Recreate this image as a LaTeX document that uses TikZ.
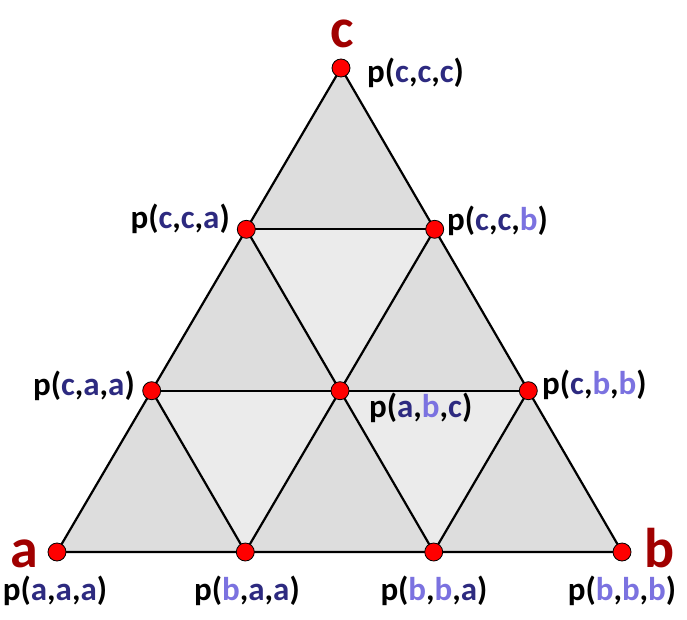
\documentclass[tikz,border=0pt]{standalone}
\usepackage{fontspec}
\setmainfont{Carlito}
\definecolor{vred}{HTML}{A00000}
\definecolor{ca}{HTML}{2D2A80}
\definecolor{cb}{HTML}{7B72E0}
\definecolor{upg}{HTML}{DDDDDD}
\definecolor{dng}{HTML}{EBEBEB}
\newcommand{\A}{\textcolor{ca}{a}}
\newcommand{\B}{\textcolor{cb}{b}}
\newcommand{\C}{\textcolor{ca}{c}}
\begin{document}
\begin{tikzpicture}[x=1pt,y=-1pt,
  dot/.style={circle,fill=red,draw=black,line width=0.8pt,minimum size=18pt,inner sep=0pt},
  edge/.style={line width=2.2pt,line join=round},
  lab/.style={font=\fontsize{33}{33}\selectfont\bfseries,inner sep=0pt},
  big/.style={font=\fontsize{56}{56}\selectfont\bfseries,text=vred,inner sep=0pt,anchor=base}]
\useasboundingbox (0,0) rectangle (687,620);
\coordinate (aaa) at (57,552);
\coordinate (baa) at (245.3,552);
\coordinate (bba) at (433.7,552);
\coordinate (bbb) at (622,552);
\coordinate (caa) at (151.7,390.7);
\coordinate (abc) at (340,390.7);
\coordinate (cbb) at (528.3,390.7);
\coordinate (cca) at (246.3,229.3);
\coordinate (ccb) at (434.7,229.3);
\coordinate (ccc) at (341,68);
% up triangles
\fill[upg] (aaa) -- (bbb) -- (ccc) -- cycle;
% down triangles
\fill[dng] (caa) -- (abc) -- (baa) -- cycle;
\fill[dng] (abc) -- (cbb) -- (bba) -- cycle;
\fill[dng] (cca) -- (ccb) -- (abc) -- cycle;
% edges
\draw[edge] (aaa) -- (bbb) -- (ccc) -- cycle;
\draw[edge] (caa) -- (cbb);
\draw[edge] (cca) -- (ccb);
\draw[edge] (baa) -- (ccb);
\draw[edge] (bba) -- (cbb);
\draw[edge] (bba) -- (cca);
\draw[edge] (baa) -- (caa);
% dots
\foreach \p in {aaa,baa,bba,bbb,caa,abc,cbb,cca,ccb,ccc}
  \node[dot] (d\p) at (\p) {};
% labels
\node[lab,anchor=west] (lccc) at (367,73) {p(\C,\C,\C)};
\node[lab,anchor=east] (lcca) at (230,219) {p(\C,\C,\A)};
\node[lab,anchor=west] (lccb) at (447,221) {p(\C,\C,\B)};
\node[lab,anchor=east] (lcaa) at (135,386) {p(\C,\A,\A)};
\node[lab,anchor=west] (lcbb) at (542,385) {p(\C,\B,\B)};
\node[lab,anchor=west] (labc) at (369,408) {p(\A,\B,\C)};
\node[lab] (laaa) at (55,591) {p(\A,\A,\A)};
\node[lab] (lbaa) at (247,591) {p(\B,\A,\A)};
\node[lab] (lbba) at (434,591) {p(\B,\B,\A)};
\node[lab] (lbbb) at (622,591) {p(\B,\B,\B)};
\node[big] (na) at (24,567) {a};
\node[big] (nb) at (660,567) {b};
\node[big] (nc) at (342,48) {c};
\end{tikzpicture}
\end{document}
